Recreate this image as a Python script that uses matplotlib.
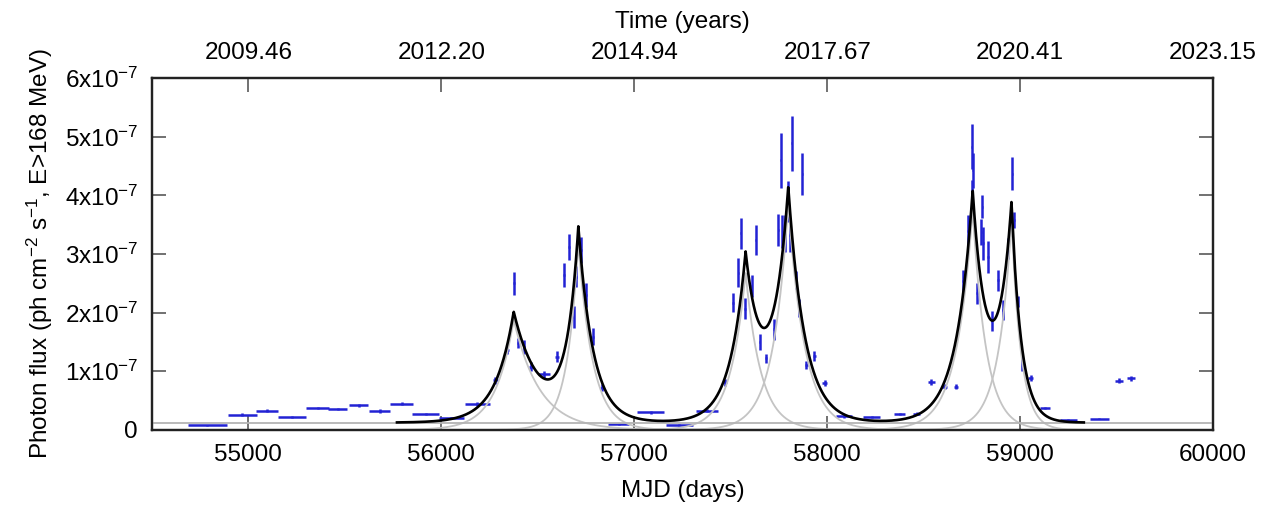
import numpy as np
import matplotlib.pyplot as plt

plt.rcParams['font.family'] = ['Liberation Sans', 'DejaVu Sans']
plt.rcParams['mathtext.fontset'] = 'custom'
plt.rcParams['mathtext.rm'] = 'Liberation Sans'
plt.rcParams['mathtext.it'] = 'Liberation Sans:italic'
plt.rcParams['mathtext.bf'] = 'Liberation Sans:bold'

# light curve points, flux in units of 1e-7 ph cm-2 s-1
mjd = [54787, 54969, 55097, 55224, 55359, 55463, 55571, 55680, 55794, 55918,
       56051, 56187, 56280, 56341, 56375, 56399, 56430, 56465, 56534, 56599,
       56637, 56663, 56685, 56698, 56723, 56749, 56784, 56832, 56920, 57085,
       57232, 57377, 57470, 57513, 57539, 57551, 57574, 57608, 57629, 57650,
       57681, 57724, 57746, 57758, 57767, 57781, 57795, 57806, 57815, 57836,
       57856, 57870, 57892, 57934, 57987, 58086, 58231, 58376, 58464, 58540,
       58609, 58667, 58704, 58728, 58750, 58755, 58752, 58776, 58798, 58803,
       58810, 58833, 58853, 58884, 58909, 58936, 58960, 58969, 58988, 59012,
       59055, 59130, 59250, 59411, 59513, 59575]
mjd_err = [100, 73, 56, 73, 60, 50, 50, 55, 58, 68,
           65, 65, 12, 8, 5, 5, 5, 10, 31, 10,
           5, 5, 3, 3, 5, 5, 5, 10, 55, 70,
           70, 55, 12, 4, 3, 3, 3, 3, 3, 3,
           6, 3, 3, 3, 3, 3, 3, 3, 3, 3,
           3, 3, 6, 10, 12, 40, 45, 28, 18, 18,
           12, 12, 3, 3, 3, 3, 3, 4, 3, 3,
           3, 3, 3, 5, 3, 3, 3, 3, 3, 3,
           12, 25, 45, 50, 20, 20]
flux = [0.08, 0.26, 0.33, 0.22, 0.37, 0.36, 0.42, 0.32, 0.45, 0.27,
        0.20, 0.44, 0.85, 1.37, 2.50, 1.48, 1.42, 1.08, 0.95, 1.25,
        2.64, 3.12, 1.93, 2.61, 3.07, 2.30, 1.59, 0.72, 0.10, 0.30,
        0.08, 0.33, 0.81, 2.17, 2.68, 3.35, 2.07, 2.45, 3.24, 1.50,
        1.22, 1.72, 3.41, 4.60, 3.38, 3.35, 3.90, 3.32, 4.89, 2.56,
        2.08, 4.37, 1.11, 1.26, 0.80, 0.23, 0.22, 0.27, 0.28, 0.82,
        0.74, 0.74, 2.54, 3.40, 4.83, 4.43, 4.09, 2.33, 3.38, 3.81,
        3.18, 2.95, 1.85, 2.55, 2.05, 3.10, 4.37, 3.58, 2.19, 1.14,
        0.88, 0.37, 0.17, 0.19, 0.84, 0.88]
flux_err = [0.01, 0.03, 0.03, 0.02, 0.02, 0.02, 0.03, 0.03, 0.03, 0.02,
            0.02, 0.03, 0.06, 0.08, 0.20, 0.09, 0.12, 0.08, 0.06, 0.10,
            0.21, 0.22, 0.19, 0.18, 0.22, 0.20, 0.15, 0.06, 0.02, 0.02,
            0.02, 0.02, 0.06, 0.16, 0.25, 0.26, 0.18, 0.19, 0.26, 0.14,
            0.08, 0.18, 0.28, 0.47, 0.28, 0.31, 0.35, 0.28, 0.47, 0.15,
            0.15, 0.36, 0.07, 0.08, 0.05, 0.02, 0.02, 0.02, 0.02, 0.05,
            0.05, 0.05, 0.18, 0.27, 0.38, 0.30, 0.17, 0.18, 0.22, 0.20,
            0.28, 0.27, 0.17, 0.18, 0.17, 0.18, 0.28, 0.13, 0.10, 0.13,
            0.05, 0.02, 0.01, 0.01, 0.04, 0.04]

# fitted flare components (cusp shaped, same units) and baseline level
peak_mjd = [56375, 56710, 57577, 57798, 58754, 58955]
peak_amp = [1.88, 3.19, 2.675, 3.855, 3.76, 3.55]
rise_days = [95, 60, 80, 80, 85, 70]
decay_days = [135, 75, 80, 86, 70, 50]
baseline = 0.125
model_start = 55770
model_end = 59330

xticks = [55000, 56000, 57000, 58000, 59000, 60000]
year_labels = ['2009.46', '2012.20', '2014.94', '2017.67', '2020.41', '2023.15']
yticks = [0, 1, 2, 3, 4, 5, 6]

scale = 1e-7
fs = 17.5

fig = plt.figure(figsize=(12.61, 5.07), dpi=100)
ax = fig.add_axes([0.1205, 0.152, 0.8415, 0.694])

ax.errorbar(mjd, np.array(flux) * scale, xerr=mjd_err, yerr=np.array(flux_err) * scale,
            fmt='none', ecolor='#2222d4', elinewidth=1.8, capsize=0, zorder=2)

t = np.linspace(model_start, model_end, 6000)
total = np.full_like(t, baseline)
for t0, a, tr, td in zip(peak_mjd, peak_amp, rise_days, decay_days):
    tau = np.where(t < t0, tr, td)
    comp = a * np.exp(-np.abs(t - t0) / tau)
    total += comp
    ax.plot(t, comp * scale, color='#c4c4c4', lw=1.3, zorder=3)
ax.axhline(baseline * scale, color='#b4b4b4', lw=1.3, zorder=3)
ax.plot(t, total * scale, color='black', lw=1.9, zorder=4)

ax.set_xlim(54500, 60000)
ax.set_ylim(0, 6e-7)
ax.set_xticks(xticks)
ax.set_xticklabels([str(x) for x in xticks])
ax.set_yticks([y * scale for y in yticks])
ax.set_yticklabels(['0'] + ['%dx10$^{-7}$' % y for y in yticks[1:]])
ax.tick_params(direction='in', length=10, width=1.3, color='#666666',
               labelsize=fs, pad=10, right=True, top=False)
ax.set_xlabel('MJD (days)', fontsize=fs, labelpad=10)
ax.set_ylabel('Photon flux (ph cm$^{-2}$ s$^{-1}$, E>168 MeV)', fontsize=fs, labelpad=7)

ax2 = ax.twiny()
ax2.set_xlim(ax.get_xlim())
ax2.set_xticks(xticks)
ax2.set_xticklabels(year_labels)
ax2.tick_params(direction='in', length=10, width=1.3, color='#666666',
                labelsize=fs, pad=10)
ax2.set_xlabel('Time (years)', fontsize=fs, labelpad=10)

for a_ in (ax, ax2):
    for s in a_.spines.values():
        s.set_linewidth(1.6)
        s.set_color('#222222')

fig.savefig('out.png', dpi=100)
